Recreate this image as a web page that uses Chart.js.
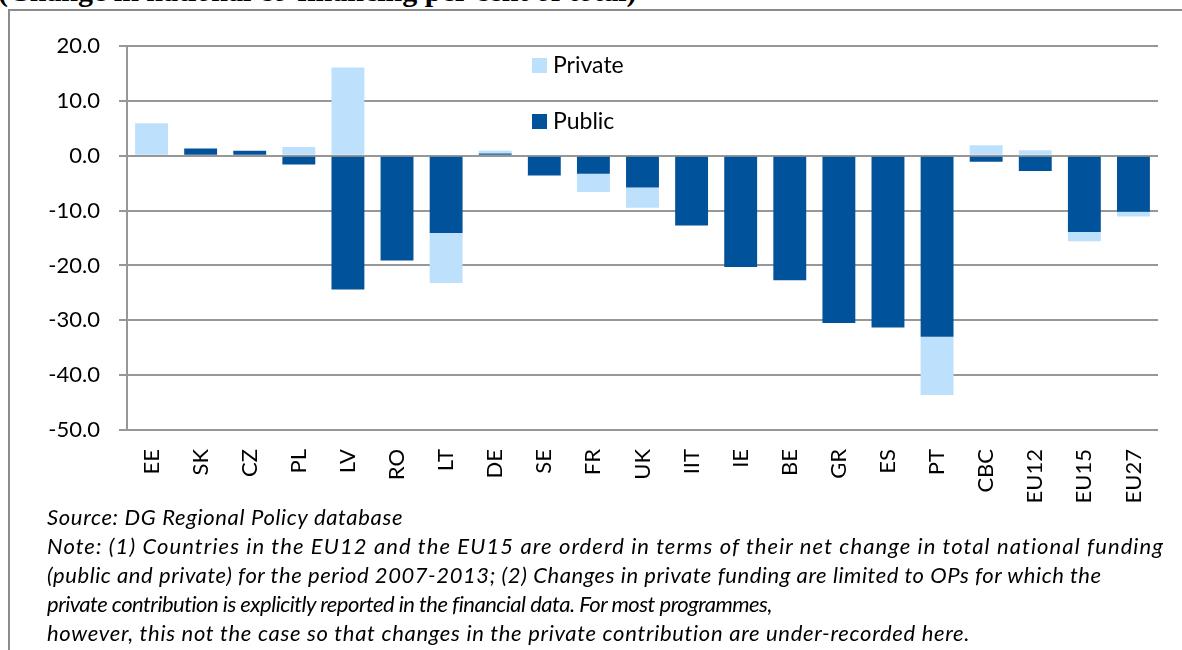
<!DOCTYPE html>
<html>
<head>
<meta charset="utf-8">
<script src="https://cdn.jsdelivr.net/npm/chart.js@4.4.1/dist/chart.umd.min.js"></script>
<style>
  html, body { margin: 0; padding: 0; background: #fff; overflow: hidden; }
  body { width: 1182px; height: 650px; position: relative; font-family: Lato, sans-serif; }
  #frame { position: absolute; left: 8px; top: 9px; width: 1200px; height: 700px;
           border-top: 2px solid #8c8c8c; border-left: 2px solid #8c8c8c; }
  #title { position: absolute; left: -2px; top: -24px; font: bold 30px "Liberation Serif", serif;
           line-height: 30px; white-space: nowrap; color: #000; }
  #wrap { position: absolute; left: 0; top: 0; width: 1182px; height: 520px; }
  #notes { position: absolute; left: 47px; top: 502px; font: italic 22px Lato, sans-serif;
           line-height: 29px; color: #000; }
  #notes div { white-space: nowrap; width: max-content; }
</style>
</head>
<body>
<div id="title">(Change in national co-financing per cent of total)</div>
<div id="frame"></div>
<div id="wrap"><canvas id="chart" width="1182" height="520"></canvas></div>
<div id="notes">
  <div data-w="356">Source: DG Regional Policy database</div>
  <div data-w="1117">Note: (1) Countries in the EU12 and the EU15 are orderd in terms of their net change in total national funding</div>
  <div data-w="1055">(public and private) for the period 2007-2013; (2) Changes in private funding are limited to OPs for which the</div>
  <div data-w="724">private contribution is explicitly reported in the financial data. For most programmes,</div>
  <div data-w="923">however, this not the case so that changes in the private contribution are under-recorded here.</div>
</div>
<script>
// Net change in national co-financing, by country / group
const countries = ['EE', 'SK', 'CZ', 'PL', 'LV', 'RO', 'LT', 'DE', 'SE', 'FR', 'UK',
                   'IIT', 'IE', 'BE', 'GR', 'ES', 'PT', 'CBC', 'EU12', 'EU15', 'EU27'];
const publicChange  = [0, 1.3, 0.9, -1.6, -24.4, -19.1, -14.1, 0.4, -3.6, -3.3, -5.8,
                       -12.7, -20.3, -22.7, -30.5, -31.3, -33.0, -1.1, -2.8, -13.9, -10.2];
const privateChange = [5.9, 0, 0, 1.6, 16.1, 0, -9.1, 0.5, 0, -3.3, -3.7,
                       0, 0, 0, 0, 0, -10.6, 1.9, 1.0, -1.7, -0.9];
const yMin = -50;
const yMax = 20;
const yStep = 10;

const gridGrey = '#979797';
const labelFont = { family: 'Lato', size: 22 };

// Stretch each note line to its column width
document.querySelectorAll('#notes div').forEach(line => {
    const target = +line.dataset.w;
    const chars = line.textContent.length;
    const natural = line.getBoundingClientRect().width;
    line.style.letterSpacing = ((target - natural) / chars).toFixed(2) + 'px';
});

// Legend drawn inside the plot area, Private above Public
const innerLegend = {
    id: 'innerLegend',
    afterDraw(chart) {
        const ctx = chart.ctx;
        const items = chart.data.datasets.slice().reverse();
        ctx.save();
        ctx.font = '23px Lato';
        ctx.textBaseline = 'middle';
        items.forEach((ds, i) => {
            const y = 65 + i * 56;
            ctx.fillStyle = ds.backgroundColor;
            ctx.fillRect(532, y - 7, 15, 15);
            ctx.fillStyle = '#000';
            ctx.fillText(ds.label, 553, y + 1);
        });
        ctx.restore();
    }
};

const ctx = document.getElementById('chart').getContext('2d');
new Chart(ctx, {
    type: 'bar',
    data: {
        labels: countries,
        datasets: [
            { label: 'Public', data: publicChange, backgroundColor: '#00539A' },
            { label: 'Private', data: privateChange, backgroundColor: '#BDE0FC' }
        ]
    },
    options: {
        responsive: false,
        animation: false,
        layout: { padding: { left: 0, right: 24, top: 46, bottom: 0 } },
        datasets: { bar: { categoryPercentage: 1, barPercentage: 0.67 } },
        plugins: {
            legend: { display: false },
            tooltip: { enabled: false }
        },
        scales: {
            x: {
                stacked: true,
                grid: { display: false },
                border: { display: false },
                ticks: { color: '#000', font: labelFont, minRotation: 90, maxRotation: 90, padding: 11 },
                afterFit(scale) { scale.height = 90; }
            },
            y: {
                stacked: true,
                min: yMin,
                max: yMax,
                grid: { color: gridGrey, lineWidth: 2, tickLength: 8 },
                border: { display: true, color: gridGrey, width: 2 },
                ticks: {
                    stepSize: yStep,
                    color: '#000',
                    font: labelFont,
                    padding: 19,
                    callback: v => v.toFixed(1)
                },
                afterFit(scale) { scale.width = 127; }
            }
        }
    },
    plugins: [innerLegend]
});
</script>
</body>
</html>
